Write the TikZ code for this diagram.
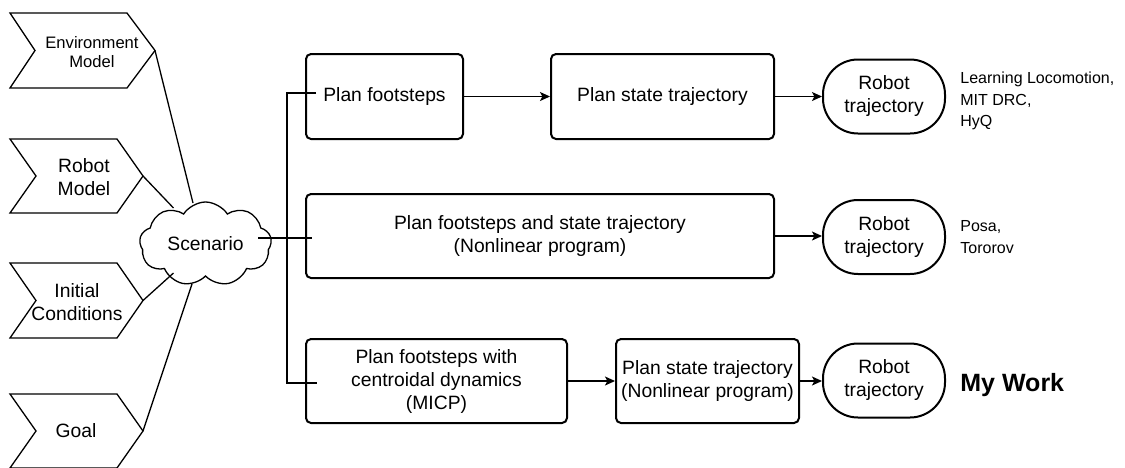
\documentclass[tikz,border=0pt]{standalone}
\usepackage{fontspec}
\setmainfont{Liberation Sans}
\usetikzlibrary{arrows.meta,shapes.symbols,calc}
\begin{document}
\begin{tikzpicture}[x=0.5pt,y=-0.5pt,
  txt/.style={font=\fontsize{9.65}{11.5}\selectfont, align=center, inner sep=0pt},
  smalltxt/.style={font=\fontsize{8}{10.75}\selectfont, align=left, inner sep=0pt, anchor=west},
  chev/.style={draw=black, line width=0.65pt, line join=miter},
  stepbox/.style={draw=black, line width=1pt, rounded corners=2.5pt, txt},
  oval/.style={draw=black, line width=1pt, rounded corners=17.5pt, minimum width=61pt, minimum height=37pt, txt},
  conn/.style={draw=black, line width=0.65pt},
  bracket/.style={draw=black, line width=1pt},
  arr/.style={draw=black, line width=0.65pt, -{Stealth[length=5pt,width=4.5pt,inset=1.2pt]}},
  scen/.style={cloud, cloud puffs=9, cloud puff arc=115, aspect=1.6, draw=black, line width=0.65pt,
    minimum width=66pt, minimum height=42pt, txt}
]
\useasboundingbox (0,0) rectangle (1125,467);

% input chevrons on the left
\draw[chev] (10,13) -- (127,13) -- (155,50.5) -- (127,88) -- (10,88) -- (35,50.5) -- cycle;
\coordinate (envtip) at (155,50.5);
\node[txt, font=\fontsize{8.3}{9.6}\selectfont] (env) at (92,52) {Environment\\Model};

\draw[chev] (10,139) -- (117,139) -- (143,176) -- (117,213) -- (10,213) -- (36,176) -- cycle;
\coordinate (robtip) at (143,176);
\node[txt] (rob) at (84,177) {Robot\\Model};

\draw[chev] (10,263) -- (117,263) -- (143,300.5) -- (117,338) -- (10,338) -- (36,300.5) -- cycle;
\coordinate (initip) at (143,300.5);
\node[txt] (ini) at (77,302) {Initial\\Conditions};

\draw[chev] (10,394) -- (117,394) -- (143,431) -- (117,468) -- (10,468) -- (36,431) -- cycle;
\coordinate (goaltip) at (143,431);
\node[txt] (goal) at (76,431) {Goal};

% scenario cloud
\node[scen] (scn) at (205.5,244) {Scenario};

\draw[conn] (envtip) -- ($(scn.center)+(-12.5,-41)$);
\draw[conn] (robtip) -- ($(scn.center)+(-32,-36)$);
\draw[conn] (initip) -- ($(scn.center)+(-32,29)$);
\draw[conn] (goaltip) -- ($(scn.center)+(-13.5,40)$);

% planning pipelines
\node[stepbox, minimum width=78.5pt, minimum height=42.5pt] (b1) at (384.5,96.5) {Plan footsteps};
\node[stepbox, minimum width=111.5pt, minimum height=42.5pt] (b2) at (662.5,96.5) {Plan state trajectory};
\node[oval] (o1) at (884,96.5) {Robot\\trajectory};

\node[stepbox, minimum width=234pt, minimum height=42pt] (b3) at (540,236) {Plan footsteps and state trajectory\\(Nonlinear program)};
\node[oval] (o2) at (884,237) {Robot\\trajectory};

\node[stepbox, minimum width=130.5pt, minimum height=42pt] (b4) at (436.5,381) {Plan footsteps with\\centroidal dynamics\\(MICP)};
\node[stepbox, minimum width=91.5pt, minimum height=42pt] (b5) at (707.5,381) {Plan state trajectory\\(Nonlinear program)};
\node[oval] (o3) at (884,380.5) {Robot\\trajectory};

% references beside the results
\node[smalltxt] (ref1) at (960,101) {Learning Locomotion,\\MIT DRC,\\HyQ};
\node[smalltxt] (ref2) at (960,237) {Posa,\\Tororov};
\node[anchor=west, inner sep=0pt, font=\fontsize{12.5}{14}\selectfont\bfseries] (mine) at (960,385) {My Work};

% scenario fan-out
\coordinate (scnR) at ($(scn.center)+(52.5,-6)$);
\draw[conn] (scnR) -- ($(scnR -| b3.west)+(7,0)$);
\draw[bracket] ($(b1.west)+(11,-4)$) -- ++(-29,0) |- ($(b4.west)+(12,2)$);

% flow arrows
\draw[arr] (b1.east) -- (b1.east -| b2.west);
\draw[arr] (b2.east) -- (b2.east -| o1.west);
\draw[arr] (b3.east) -- (b3.east -| o2.west);
\draw[arr] (b4.east) -- (b4.east -| b5.west);
\draw[arr] (b5.east) -- (b5.east -| o3.west);
\end{tikzpicture}
\end{document}
